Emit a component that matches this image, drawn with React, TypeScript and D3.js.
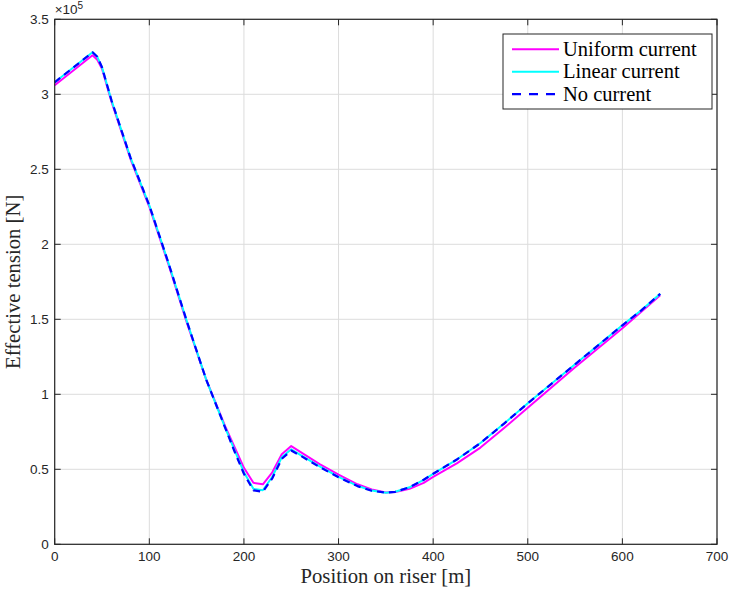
import React from "react";
import * as d3 from "d3";

const positions = [0, 40, 45, 50, 60, 80, 100, 120, 140, 160, 180, 190, 200, 210, 220, 230, 240, 250, 260, 280, 300, 320, 335, 350, 360, 375, 390, 400, 425, 450, 475, 500, 525, 550, 575, 600, 620, 640];
const uniformCurrent = [3.06, 3.26, 3.23, 3.17, 2.95, 2.57, 2.25, 1.87, 1.47, 1.10, 0.79, 0.65, 0.51, 0.41, 0.40, 0.48, 0.60, 0.655, 0.615, 0.535, 0.465, 0.40, 0.365, 0.345, 0.348, 0.37, 0.41, 0.45, 0.54, 0.645, 0.775, 0.91, 1.045, 1.18, 1.31, 1.44, 1.55, 1.66];
const linearCurrent = [3.08, 3.28, 3.25, 3.18, 2.96, 2.58, 2.26, 1.88, 1.48, 1.10, 0.78, 0.63, 0.48, 0.37, 0.36, 0.45, 0.58, 0.633, 0.595, 0.52, 0.45, 0.39, 0.358, 0.344, 0.35, 0.38, 0.43, 0.47, 0.565, 0.675, 0.805, 0.94, 1.07, 1.20, 1.33, 1.46, 1.56, 1.67];
const noCurrent = [3.08, 3.28, 3.25, 3.18, 2.96, 2.58, 2.26, 1.88, 1.48, 1.10, 0.78, 0.62, 0.47, 0.36, 0.35, 0.44, 0.57, 0.625, 0.59, 0.515, 0.447, 0.388, 0.357, 0.344, 0.35, 0.38, 0.43, 0.47, 0.565, 0.675, 0.805, 0.94, 1.07, 1.20, 1.33, 1.46, 1.56, 1.67];
const xTicks = [0, 100, 200, 300, 400, 500, 600, 700];
const yTicks = [0, 0.5, 1, 1.5, 2, 2.5, 3, 3.5];
const seriesNames = ["Uniform current", "Linear current", "No current"];
const seriesColors = ["#ff00ff", "#00ffff", "#0000ff"];

export default function App() {
  const W = 730, H = 591;
  const left = 54.7, right = 717, top = 19.3, bottom = 544.3;
  const x = d3.scaleLinear().domain([0, 700]).range([left, right]);
  const y = d3.scaleLinear().domain([0, 3.5]).range([bottom, top]);
  const line = (vals: number[]) =>
    d3.line<number>().x((_, i) => x(positions[i])).y((d) => y(d))(vals) || "";
  const tickFont = "'Liberation Sans', Arial, Helvetica, sans-serif";
  const serif = "'Liberation Serif', 'Times New Roman', serif";
  const axisColor = "#262626";
  const tl = 6;
  return (
    <svg width={W} height={H} style={{ position: "absolute", left: 0, top: 0, background: "#fff" }}>
      <rect x={0} y={0} width={W} height={H} fill="#fff" />
      {xTicks.map((t) => (
        <line key={"gx" + t} x1={x(t)} x2={x(t)} y1={top} y2={bottom} stroke="#dcdcdc" strokeWidth={1} />
      ))}
      {yTicks.map((t) => (
        <line key={"gy" + t} x1={left} x2={right} y1={y(t)} y2={y(t)} stroke="#dcdcdc" strokeWidth={1} />
      ))}
      <path d={line(uniformCurrent)} fill="none" stroke={seriesColors[0]} strokeWidth={2} strokeLinejoin="round" />
      <path d={line(linearCurrent)} fill="none" stroke={seriesColors[1]} strokeWidth={2} strokeLinejoin="round" />
      <path d={line(noCurrent)} fill="none" stroke={seriesColors[2]} strokeWidth={2.2} strokeDasharray="7,5" strokeLinejoin="round" />
      <rect x={left} y={top} width={right - left} height={bottom - top} fill="none" stroke={axisColor} strokeWidth={1.2} />
      {xTicks.map((t) => (
        <g key={"tx" + t}>
          <line x1={x(t)} x2={x(t)} y1={bottom} y2={bottom - tl} stroke={axisColor} />
          <line x1={x(t)} x2={x(t)} y1={top} y2={top + tl} stroke={axisColor} />
          <text x={x(t)} y={bottom + 17} textAnchor="middle" fontFamily={tickFont} fontSize={13.5} fill={axisColor}>{t}</text>
        </g>
      ))}
      {yTicks.map((t) => (
        <g key={"ty" + t}>
          <line x1={left} x2={left + tl} y1={y(t)} y2={y(t)} stroke={axisColor} />
          <line x1={right} x2={right - tl} y1={y(t)} y2={y(t)} stroke={axisColor} />
          <text x={left - 6} y={y(t) + 5} textAnchor="end" fontFamily={tickFont} fontSize={13.5} fill={axisColor}>{t}</text>
        </g>
      ))}
      <text x={left} y={top - 5} fontFamily={tickFont} fontSize={13.5} fill={axisColor}>
        ×10<tspan dy={-5} fontSize={10}>5</tspan>
      </text>
      <text x={(left + right) / 2} y={582.5} textAnchor="middle" fontFamily={serif} fontSize={20.7} fill={axisColor}>Position on riser [m]</text>
      <text transform={`translate(20,${(top + bottom) / 2}) rotate(-90)`} textAnchor="middle" fontFamily={serif} fontSize={20.7} fill={axisColor}>Effective tension [N]</text>
      <rect x={503} y={34} width={209} height={75} fill="#fff" stroke={axisColor} strokeWidth={1} />
      {seriesNames.map((n, i) => {
        const ly = 49.3 + i * 22.4;
        return (
          <g key={n}>
            <line x1={512} x2={559} y1={ly} y2={ly} stroke={seriesColors[i]} strokeWidth={i === 2 ? 2.2 : 2} strokeDasharray={i === 2 ? "9,8" : undefined} />
            <text x={563} y={ly + 6.5} fontFamily={serif} fontSize={20.5} fill="#000">{n}</text>
          </g>
        );
      })}
    </svg>
  );
}
